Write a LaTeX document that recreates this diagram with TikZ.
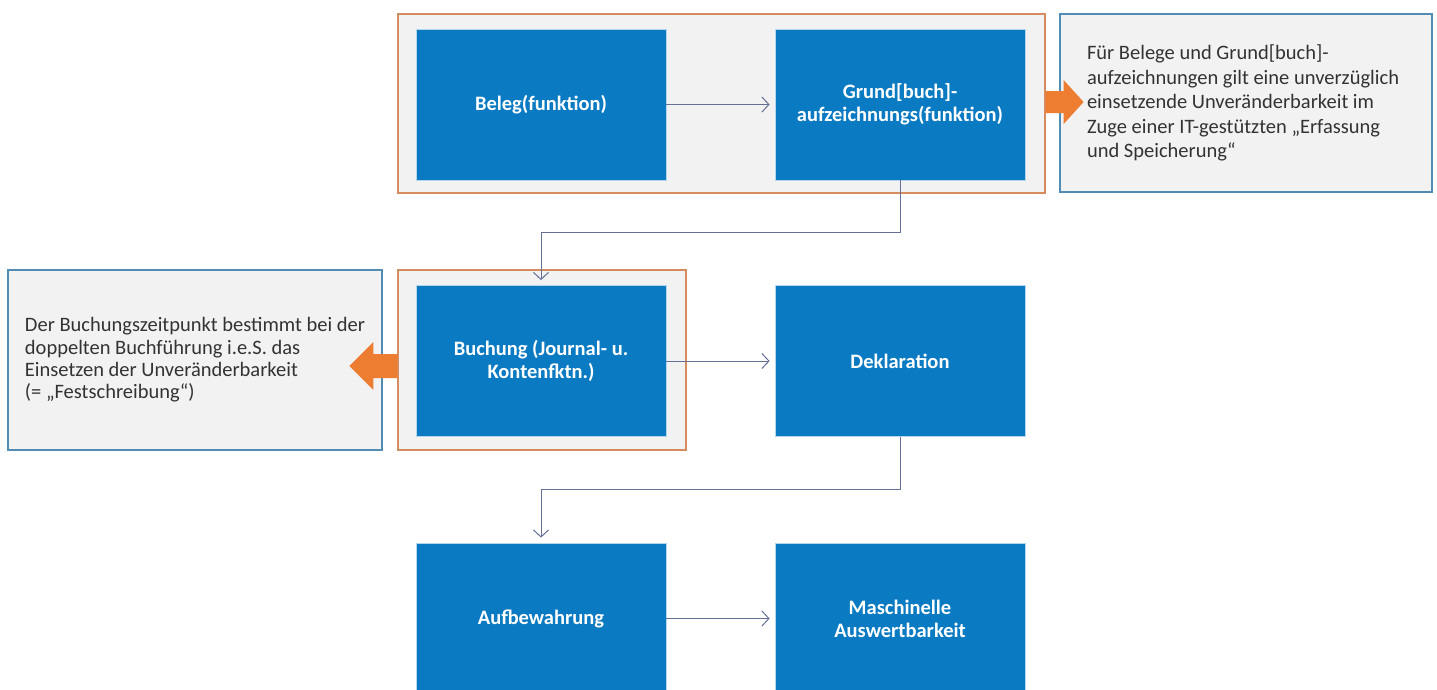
\documentclass[tikz,border=0pt]{standalone}
\usepackage{fontspec}
\setmainfont{Carlito}
\usetikzlibrary{arrows.meta}
\definecolor{boxColor}{RGB}{10,122,194}
\definecolor{arrowColor}{RGB}{237,125,49}
\definecolor{frameColor}{RGB}{214,140,95}
\definecolor{noteColor}{RGB}{80,140,180}
\definecolor{edgeColor}{RGB}{100,112,150}
\definecolor{paleColor}{RGB}{242,242,242}

\begin{document}
\begin{tikzpicture}[x=1pt,y=-1pt]

          \tikzstyle{frameNode} = [draw=frameColor, line width=1.2pt, fill=paleColor, inner sep=0pt];
          \tikzstyle{boxNode} = [fill=boxColor, draw=boxColor!30, line width=0.8pt, text=white, align=center, minimum width=250pt, minimum height=151pt, inner sep=0pt, font=\fontsize{20.5}{23}\selectfont\bfseries];
          \tikzstyle{noteNode} = [draw=noteColor, line width=1.2pt, fill=paleColor, text=black!80, align=left, inner sep=0pt];

          \tikzstyle{flowEdge} = [draw=edgeColor, line width=1pt, -{Straight Barb[length=7pt,width=15pt]}, shorten >=5pt];
          \tikzstyle{bigArrow} = [fill=arrowColor];

          \useasboundingbox (0,0) rectangle (1437,689);
          \clip (0,0) rectangle (1437,689);
          \fill[white] (0,0) rectangle (1437,689);

          % containers
          \node[frameNode, minimum width=647pt, minimum height=179pt] (frameTop) at (721.5,103.5) {};
          \node[frameNode, minimum width=288pt, minimum height=180pt] (frameMid) at (542,360) {};

          % process steps
          \node[boxNode] (beleg) at (541,104.5) {Beleg(funktion)};
          \node[boxNode] (grund) at (900,104.5) {Grund[buch]-\\aufzeichnungs(funktion)};
          \node[boxNode] (buchung) at (541,361) {Buchung (Journal- u.\\Kontenfktn.)};
          \node[boxNode] (dekl) at (900,361) {Deklaration};
          \node[boxNode] (aufb) at (541,618.5) {Aufbewahrung};
          \node[boxNode] (masch) at (900,618.5) {Maschinelle\\Auswertbarkeit};

          % notes
          \node[noteNode, align=flush left, inner xsep=27pt, text width=318pt, minimum height=178pt, font=\fontsize{20.5}{24.5}\selectfont] (noteRight) at (1246,103) {Für Belege und Grund[buch]-\\aufzeichnungen gilt eine unverzüglich\\einsetzende Unveränderbarkeit im\\Zuge einer IT-gestützten „Erfassung\\und Speicherung“};
          \node[noteNode, minimum width=374pt, minimum height=180pt, font=\fontsize{20.5}{22.3}\selectfont] (noteLeft) at (195,360) {Der Buchungszeitpunkt bestimmt bei der\\doppelten Buchführung i.e.S. das\\Einsetzen der Unveränderbarkeit\\(= „Festschreibung“)};

          % flow
          \draw[flowEdge] (beleg) -- (grund);
          \draw[flowEdge] (buchung) -- (dekl);
          \draw[flowEdge] (aufb) -- (masch);
          \draw[flowEdge] (grund.south) -- ++(0,52) -| (buchung.north);
          \draw[flowEdge] (dekl.south) -- ++(0,53) -| (aufb.north);

          % orange arrows
          \fill[bigArrow] (frameTop.east) ++(0,-1.5) ++(0,-11) -- ++(18,0) -- ++(0,-11) -- ++(20,22) -- ++(-20,22) -- ++(0,-11) -- ++(-18,0) -- cycle;
          \fill[bigArrow] (frameMid.west) ++(0,6) ++(0,-12) -- ++(-24,0) -- ++(0,-12) -- ++(-24,24) -- ++(24,24) -- ++(0,-12) -- ++(24,0) -- cycle;
        \end{tikzpicture}
\end{document}
